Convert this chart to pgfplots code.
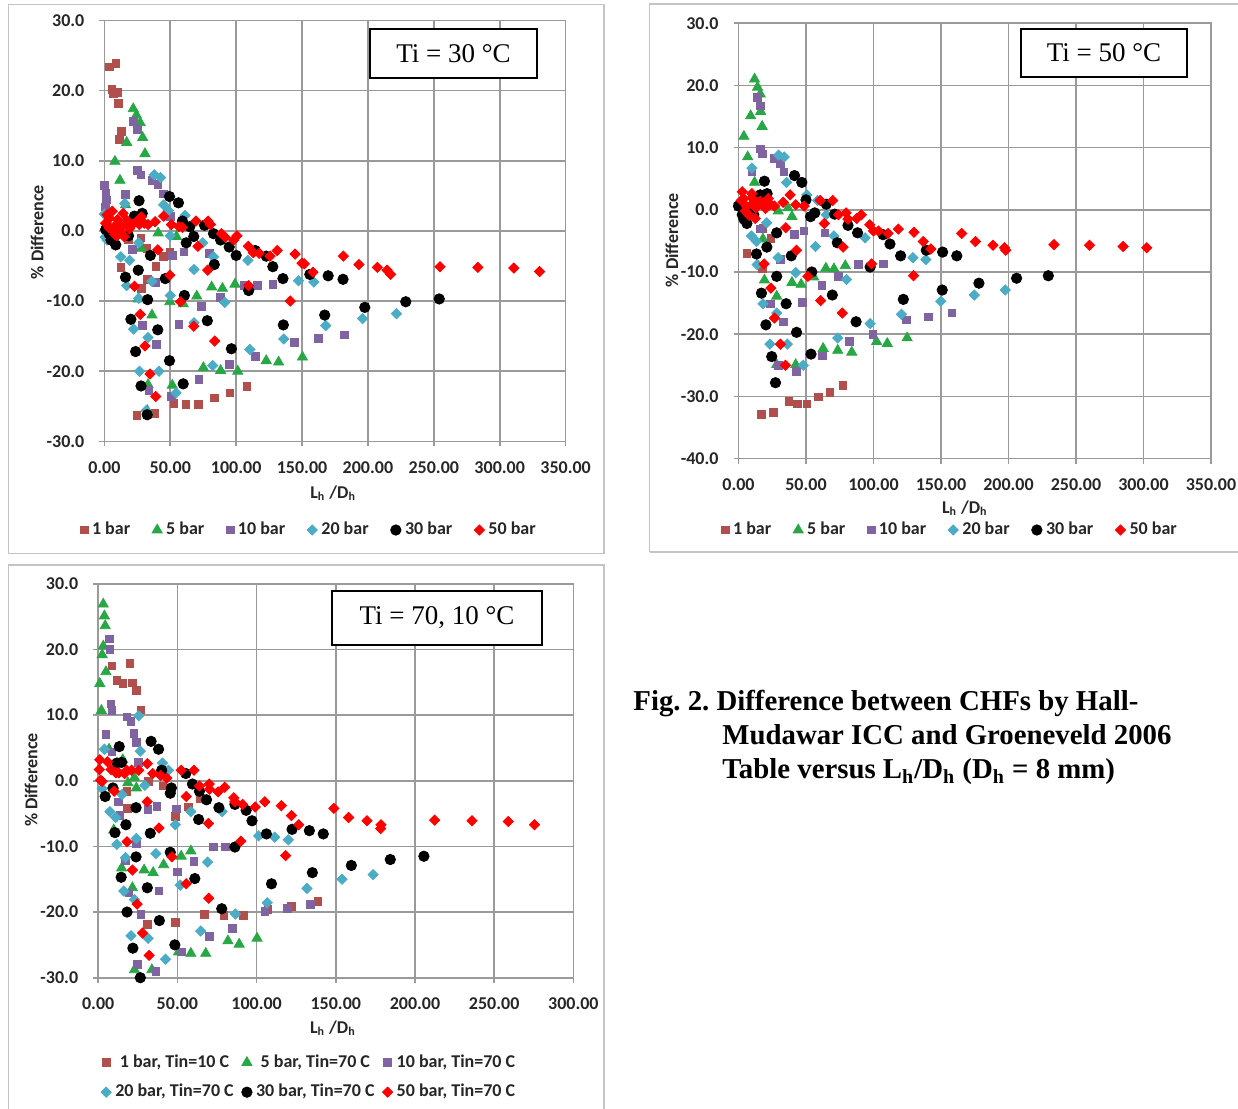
\documentclass[border=0pt]{standalone}
\usepackage{fontspec}
\setmainfont{Carlito}
\newfontfamily\tnr{Liberation Serif}
\usepackage{pgfplots}
\pgfplotsset{compat=1.18}
\frenchspacing
\definecolor{brownc}{HTML}{B14F4C}
\definecolor{greenc}{HTML}{28A745}
\definecolor{purplec}{HTML}{8064A2}
\definecolor{cyanc}{HTML}{4BACC6}
\definecolor{redc}{HTML}{FF0000}
\definecolor{gridgray}{HTML}{9A9A9A}
\definecolor{framegray}{HTML}{C4C4C4}
\pgfplotsset{
  panel/.style={
    scale only axis,
    axis line style={draw=gridgray, line width=0.8pt},
    grid=major, major grid style={draw=gridgray, line width=0.8pt},
    tick align=outside, tick pos=left, major tick length=2.5pt,
    every tick/.style={draw=gridgray, line width=0.8pt},
    ticklabel style={font=\fontsize{9}{10}\selectfont\bfseries, text=black!85},
    xticklabel style={/pgf/number format/fixed, /pgf/number format/fixed zerofill, /pgf/number format/precision=2, /pgf/number format/assume math mode=true, yshift=-4pt},
    yticklabel style={/pgf/number format/fixed, /pgf/number format/fixed zerofill, /pgf/number format/precision=1, /pgf/number format/assume math mode=true, xshift=-4pt},
    label style={font=\fontsize{9}{10}\selectfont\bfseries, text=black!85},
    xlabel={L\textsubscript{h} /D\textsubscript{h}},
    ylabel={\% Difference},
    legend style={draw=none, fill=none, font=\fontsize{9}{10}\selectfont\bfseries, text=black!85,
      /tikz/every even column/.append style={column sep=9pt}},
    legend image code/.code={\draw[mark repeat=2,mark phase=2,##1] plot coordinates {(0cm,0cm) (0.1cm,0cm) (0.2cm,0cm)};},
  },
  s1/.style={only marks, mark=square*, mark size=1.9pt, color=brownc},
  s5/.style={only marks, mark=triangle*, mark size=2.9pt, color=greenc},
  s10/.style={only marks, mark=square*, mark size=1.9pt, color=purplec},
  s20/.style={only marks, mark=square*, mark options={rotate=45}, mark size=1.8pt, color=cyanc},
  s30/.style={only marks, mark=*, mark size=2.6pt, color=black},
  s50/.style={only marks, mark=square*, mark options={rotate=45}, mark size=1.8pt, color=redc},
}
\begin{document}
\begin{tikzpicture}
\path[use as bounding box] (0,0) rectangle (619pt,554.5pt);
\fill[white] (0,0) rectangle (619pt,554.5pt);
% panel frames
\draw[framegray, line width=0.8pt] (4.3pt,277.7pt) rectangle (302pt,552.3pt);
\draw[framegray, line width=0.8pt] (324.8pt,278.5pt) -- (324.8pt,552.5pt) -- (619pt,552.5pt);
\draw[framegray, line width=0.8pt] (324.8pt,278.5pt) -- (619pt,278.5pt);
\draw[framegray, line width=0.8pt] (4.3pt,0pt) -- (4.3pt,272pt) -- (302pt,272pt) -- (302pt,0pt);

% ---------------- Panel 1: Ti = 30 C
\begin{axis}[panel, at={(52.2pt,333.8pt)}, anchor=south west, width=230.6pt, height=210.5pt,
  xmin=0, xmax=350, ymin=-30, ymax=30, xtick={0,50,...,350}, ytick={-30,-20,...,30},
  xlabel style={at={(axis description cs:0.496,-0.1226)}, anchor=center},
  ylabel style={at={(axis description cs:-0.146,0.497)}, anchor=center, rotate=0},
  legend columns=6, legend style={at={(axis description cs:0.446,-0.2105)}, anchor=center}]
\addplot[s1] coordinates {(3.6,23.4) (8.6,23.9) (5.6,20.2) (7,19.6) (10,19.7) (10.7,18.2) (12.7,14.2) (11.2,13.0) (12.4,-5.2) (27.8,-1.0) (32.2,-2.5) (32.8,-6.9) (39,-5.1) (44.7,-3.6) (49.7,-3.0) (24.6,-26.3) (37.9,-26.0) (52.7,-24.6) (62,-24.7) (71.3,-24.7) (83.7,-23.8) (95.3,-23.1) (108,-22.2) (18,-1.2) (28,-8.2)};
\addlegendentry{1 bar}
\addplot[s5] coordinates {(21.9,17.4) (24.3,16.5) (27.2,15.4) (29,13.3) (30.8,11.0) (16.9,12.6) (8,9.9) (11.8,7.2) (16,3.7) (40.8,-0.3) (54.7,-0.8) (27.8,-2.5) (25.7,-9.7) (36.1,-12.0) (49.7,-10.1) (59.8,-10.4) (70.1,-9.3) (81.4,-8.0) (89.6,-8.2) (99.1,-7.6) (75.1,-19.5) (88.2,-19.9) (101.2,-20.0) (122.8,-18.5) (132.2,-18.7) (150.3,-18.0) (51.5,-22.0) (33.1,-21.9) (32.5,-25.6)};
\addlegendentry{5 bar}
\addplot[s10] coordinates {(0,6.5) (1.2,5.4) (1.5,4.4) (0.8,3.4) (1.2,2.4) (21.9,15.6) (24.9,14.5) (24.9,8.6) (27.8,8.0) (16,5.2) (36.1,7.2) (40.5,6.6) (44.7,5.3) (50,2.1) (21.3,-2.6) (39,-7.3) (51.5,-3.5) (60.4,-3.0) (79.6,-3.2) (73.4,-10.8) (87.9,-9.5) (28.7,-13.5) (56.5,-13.3) (39.6,-16.2) (105.9,-7.8) (116,-7.8) (127.8,-7.6) (114.5,-17.9) (95,-19.0) (71.6,-21.2) (33.7,-22.7) (50.9,-23.6) (144.4,-15.9) (162.4,-15.3) (182.2,-14.8)};
\addlegendentry{10 bar}
\addplot[s20] coordinates {(0,2.4) (0.6,-0.9) (2,-1.3) (15.4,3.9) (12.4,-3.7) (19.2,-4.2) (16.9,-7.8) (22.2,-14.0) (26.6,-20.0) (33.1,-15.2) (31.7,-25.6) (41.4,-20.0) (54.4,-23.1) (37.9,8.0) (42.6,7.6) (45,3.7) (48.5,2.9) (50,-0.7) (50,-9.2) (26,-1.7) (36,-7.2) (61.2,2.2) (68,-5.5) (82.8,-3.7) (91.4,-10.2) (82.2,-19.2) (110.4,-16.9) (108.9,-4.2) (136.1,-15.4) (147.3,-7.1) (158.9,-7.3) (168,-13.5) (195.9,-12.5) (221.6,-11.8) (68,-13.1) (74.6,-1.7) (26,-9.6)};
\addlegendentry{20 bar}
\addplot[s30] coordinates {(2.1,0.6) (6.5,-0.7) (8.6,-2.0) (18.3,-0.7) (16,-6.6) (20.1,-12.6) (23.7,-17.2) (27.8,-22.1) (32.5,-26.2) (25.7,-5.6) (26.3,4.3) (22.8,2.1) (28.7,2.5) (34.9,-3.5) (32.8,-9.8) (40.5,-14.1) (46.2,-6.8) (49.4,-18.5) (49.4,4.9) (56.2,4.0) (59.2,1.4) (62.1,-1.7) (64.8,0.6) (67.8,-0.8) (76,0.8) (82.8,-0.4) (83.4,-4.8) (78.1,-12.8) (59.8,-21.8) (60.7,-9.2) (88.2,-1.3) (94.7,-2.3) (100,-3.5) (96.4,-16.8) (109.5,-8.5) (114.5,-2.8) (122.8,-3.6) (127.8,-5.1) (135.5,-6.8) (135.8,-13.4) (155.9,-6.2) (169.8,-6.4) (181.1,-6.9) (167.2,-12.0) (197.6,-10.9) (228.7,-10.1) (254.1,-9.7) (1,0.2) (3.5,-0.4) (5,-1.3) (11,-0.3)};
\addlegendentry{30 bar}
\addplot[s50] coordinates {(5.9,2.8) (1,1.1) (3.5,0.4) (8.9,0.9) (14.2,2.5) (9.5,-0.7) (12.4,-0.2) (16.9,0.9) (21.3,0.9) (24.9,1.4) (26.6,0.9) (30.2,1.1) (33.1,0.9) (38.5,1.3) (45,2.1) (50.9,0.9) (56.5,0.6) (59.2,0.5) (69.5,1.4) (78.7,1.4) (80.5,0.9) (88.8,-0.4) (91.7,-0.9) (100.6,-0.7) (98.2,-1.3) (109.2,-2.2) (113,-3.1) (117.5,-3.2) (125.7,-3.6) (131.1,-2.8) (144.7,-3.3) (150,-4.6) (151.8,-4.7) (158.3,-5.9) (141.1,-10.0) (181.4,-3.6) (193.2,-4.8) (207.1,-5.2) (214.5,-5.6) (217.2,-6.2) (254.7,-5.1) (283.4,-5.2) (310.7,-5.3) (330.2,-5.8) (22.8,-7.9) (27.2,-11.9) (30.8,-16.4) (34.6,-20.4) (39,-23.6) (40.5,-2.7) (49.7,-6.3) (57.7,-10.1) (67.8,-13.6) (71,-2.2) (78.4,-5.6) (83.7,-15.7) (109.5,-7.8) (2,2.3) (4,1.8) (6,0.2) (8,-0.5) (10,1.6) (13,0.6) (15,-0.8) (17,1.5) (19,0.3) (28,2.0)};
\addlegendentry{50 bar}
\end{axis}
\node[draw=black, line width=0.8pt, fill=white, minimum width=83.5pt, minimum height=24.5pt, inner sep=0pt, font=\tnr\fontsize{13.5}{15}\selectfont] at (226.75pt,527.75pt) {Ti = 30 °C};

% ---------------- Panel 2: Ti = 50 C
\begin{axis}[panel, at={(369.25pt,325.2pt)}, anchor=south west, width=236.25pt, height=217.7pt,
  xmin=0, xmax=350, ymin=-40, ymax=30, xtick={0,50,...,350}, ytick={-40,-30,...,30},
  xlabel style={at={(axis description cs:0.479,-0.1134)}, anchor=center},
  ylabel style={at={(axis description cs:-0.141,0.502)}, anchor=center},
  legend columns=6, legend style={at={(axis description cs:0.45,-0.164)}, anchor=center}]
\addplot[s1] coordinates {(6.2,-7.0) (24,-4.6) (17.5,-9.4) (17,-32.9) (26,-32.6) (37.3,-30.8) (43.5,-31.2) (50.6,-31.2) (59.1,-30.1) (67.6,-29.4) (77.2,-28.2) (18,-3.0)};
\addlegendentry{1 bar}
\addplot[s5] coordinates {(11.9,21.0) (14.1,19.7) (16.1,18.6) (9,15.1) (16.4,15.8) (17.5,13.4) (4,11.8) (6.8,8.5) (11.9,4.4) (18.1,-4.7) (19.2,-11.3) (29.4,-0.2) (36.7,0.3) (39.6,-1.1) (28.3,-13.9) (39.6,-11.7) (46.4,-12.0) (55.7,-10.8) (64.7,-9.4) (70.7,-9.5) (79.1,-9.0) (62.7,-22.3) (73.5,-22.6) (83.9,-22.9) (102.3,-21.2) (110.2,-21.5) (124.9,-20.6) (42.4,-24.9) (28.3,-24.9)};
\addlegendentry{5 bar}
\addplot[s10] coordinates {(14.1,18.1) (16.1,16.7) (16.4,9.8) (17.5,9.0) (9.9,6.1) (26.6,8.3) (31.1,7.5) (33.6,6.1) (16.1,-3.1) (41.5,-4.0) (48.3,-3.4) (31.1,-8.0) (23.7,-15.1) (33.4,-18.0) (47.2,-14.9) (63.9,-3.7) (61.9,-12.2) (74.1,-10.7) (88.8,-8.8) (107.4,-8.7) (29.4,-25.0) (43,-26.0) (62.2,-23.5) (82,-21.2) (99.5,-20.0) (124.4,-17.7) (140.8,-17.2) (158,-16.6)};
\addlegendentry{10 bar}
\addplot[s20] coordinates {(9.9,6.7) (9.6,-4.2) (13.3,-5.1) (13.8,-8.8) (18.1,-15.1) (20.9,-2.1) (23.2,-21.6) (36.2,-21.6) (28.3,-16.6) (29.4,-7.7) (29.7,8.8) (33.9,8.5) (35.6,4.4) (42.4,-10.1) (48,-25.0) (50.6,2.4) (57.1,-5.9) (58.5,1.5) (65,-0.8) (70.7,-4.2) (73.5,-20.6) (80,-11.2) (93.8,-4.5) (97.5,-18.3) (120.7,-16.8) (129.2,-7.7) (138.8,-8.0) (149.8,-14.7) (174.7,-13.7) (197.6,-12.9) (0,1.0)};
\addlegendentry{20 bar}
\addplot[s30] coordinates {(0,0.6) (2.8,-0.8) (6.2,-2.2) (11.3,-0.8) (13.3,-7.1) (17,-13.4) (20.3,-18.5) (24.6,-23.6) (27.4,-27.8) (16.1,2.4) (19.2,4.6) (21.2,2.6) (21,-6.0) (28.3,-3.7) (28.3,-10.7) (35.3,-15.1) (39.1,-7.4) (41.5,5.5) (46.9,4.4) (43,-19.7) (50,1.6) (53.4,-1.1) (56.5,-0.5) (53.7,-23.2) (54.3,-10.0) (65,0.9) (71.2,-0.7) (73.2,-5.3) (69.5,-13.7) (81.1,-2.5) (87.1,-18.0) (88.2,-3.7) (97.5,-9.2) (107.1,-4.0) (112.2,-5.5) (120.1,-7.4) (122.1,-14.4) (139.1,-6.5) (151.2,-6.8) (161.7,-7.4) (150.9,-12.9) (178.1,-11.8) (206,-11.0) (229.5,-10.6) (4,-1.5) (8,0.3)};
\addlegendentry{30 bar}
\addplot[s50] coordinates {(2.8,2.9) (2,1.5) (5,-0.2) (9.9,2.6) (11.3,1.2) (14.7,1.0) (18.7,0.9) (21.2,1.2) (23.7,0.9) (26.6,0.6) (33.1,1.2) (38.2,2.4) (42.4,0.8) (48.6,0.6) (60.5,1.5) (69.8,1.5) (74.1,-0.8) (79.7,-0.5) (81.1,-1.5) (87.6,-1.4) (91,-0.8) (97.2,-2.4) (100,-3.4) (103.7,-3.4) (110.8,-3.8) (118.4,-3.1) (130,-3.6) (136.8,-5.1) (142.5,-6.3) (165.3,-3.8) (175.5,-5.1) (188.5,-5.7) (197,-6.1) (197.9,-6.5) (233.7,-5.6) (260,-5.7) (284.9,-5.9) (302.4,-6.1) (12.4,-1.4) (18.9,-8.7) (24,-12.6) (26.6,-17.4) (31.1,-21.6) (34.8,-25.0) (35,-2.9) (43,-6.5) (51.4,-10.7) (60.8,-14.6) (76.9,-16.6) (98.6,-8.7) (129.7,-10.6) (63.6,-2.2) (77.5,-6.0) (4,1.8) (6,0.5) (8,-0.9) (10,1.9) (13,0.3) (16,1.4) (20,0.2) (22,1.8)};
\addlegendentry{50 bar}
\end{axis}
\node[draw=black, line width=0.8pt, fill=white, minimum width=83pt, minimum height=24pt, inner sep=0pt, font=\tnr\fontsize{13.5}{15}\selectfont] at (552pt,528pt) {Ti = 50 °C};

% ---------------- Panel 3: Ti = 70, 10 C
\begin{axis}[panel, at={(49.1pt,65.65pt)}, anchor=south west, width=237.6pt, height=196.95pt,
  xmin=0, xmax=300, ymin=-30, ymax=30, xtick={0,50,...,300}, ytick={-30,-20,...,30},
  xlabel style={at={(axis description cs:0.494,-0.1277)}, anchor=center},
  ylabel style={at={(axis description cs:-0.141,0.502)}, anchor=center},
  legend columns=3, legend style={at={(axis description cs:0.446,-0.253)}, anchor=center, /tikz/every even column/.append style={column sep=2pt}, /tikz/row sep=3pt}]
\addplot[s1] coordinates {(8.6,17.5) (11.8,15.3) (15.7,14.8) (19.9,17.9) (21.6,14.9) (24.1,13.8) (27,10.8) (31.7,-0.1) (40.8,-0.8) (18.4,-4.2) (48.7,-5.4) (57,-4.0) (64.7,-2.7) (31,-21.9) (48.7,-21.6) (67.1,-20.4) (79.4,-20.5) (91.5,-20.5) (107.2,-19.6) (122,-19.1) (138.7,-18.4) (18,-1.6)};
\addlegendentry{1 bar, Tin=10 C}
\addplot[s5] coordinates {(3.2,26.9) (3.9,25.1) (4.4,23.6) (3.2,20.5) (2.5,19.2) (4.9,16.6) (1,14.8) (2,10.7) (6.9,4.8) (22.9,0.5) (18.7,-0.3) (24.1,-1.1) (9.8,-7.5) (14.8,-13.3) (21.6,-16.3) (29,-13.6) (34.7,-14.0) (41.3,-12.8) (52.4,-11.5) (58.5,-10.7) (22.9,-28.8) (33.9,-28.8) (50.7,-26.1) (58.5,-26.3) (67.9,-26.3) (81.9,-24.4) (89,-24.9) (100.3,-24.0) (15.5,3.2)};
\addlegendentry{5 bar, Tin=70 C}
\addplot[s10] coordinates {(6.9,21.6) (7.4,20.0) (7.9,11.7) (8.6,10.7) (4.9,7.1) (8.6,4.4) (18,9.7) (20.7,9.0) (22.6,7.2) (24.1,5.8) (25.3,2.8) (12.8,-3.2) (13.8,-5.3) (31.5,-4.4) (37.1,-3.9) (24.1,-9.5) (17.2,-12.1) (19.4,-17.1) (38.4,-16.8) (49.2,-4.3) (49.9,-13.9) (60.5,-12.3) (72.8,-10.1) (80.2,-10.1) (27,-20.4) (24.8,-28.0) (36.4,-29.0) (52.4,-26.1) (70.1,-23.7) (84.8,-22.5) (105.2,-19.9) (119.5,-19.4) (134,-18.8)};
\addlegendentry{10 bar, Tin=70 C}
\addplot[s20] coordinates {(2.5,-1.2) (3.9,4.8) (7.4,-4.7) (11.1,-5.6) (11.8,-9.7) (17.2,-11.7) (16.2,-16.8) (20.7,-23.6) (22.9,-18.1) (24.1,-8.8) (25.6,9.9) (26.6,4.5) (29.5,-0.7) (31.5,-24.0) (36.4,-11.1) (40.6,2.7) (44.3,1.6) (42.5,-27.2) (48.7,-6.7) (51.8,-15.9) (58.5,-4.7) (69.1,-12.4) (64.7,-22.9) (78.2,-4.7) (86.6,-20.3) (101.3,-8.4) (111.4,-8.6) (106.7,-18.6) (120,-9.0) (131.8,-16.4) (153.9,-15.0) (173.6,-14.3) (9.8,-1.2) (15,-2.1)};
\addlegendentry{20 bar, Tin=70 C}
\addplot[s30] coordinates {(4.4,-2.4) (9.3,-1.1) (10.6,-7.9) (13.3,5.2) (11.8,2.7) (14.8,2.8) (14.5,-14.7) (17.5,-6.7) (18.2,-20.0) (21.9,-25.5) (23.9,-4.1) (23.9,-11.6) (26.6,-30.0) (31,-16.3) (32.9,-8.0) (33.4,6.0) (38.1,4.8) (38.6,-21.3) (40.1,1.6) (45.5,-1.9) (46.2,-1.1) (45.5,-10.9) (48.4,-25.0) (55.3,1.1) (59.5,-0.5) (61,-14.9) (63.9,-1.6) (63.4,-5.9) (68.4,-2.9) (76.2,-4.1) (78,-19.5) (86.3,-3.6) (86.3,-10.1) (93.4,-4.5) (97.1,-6.1) (106.2,-8.1) (109.4,-15.7) (122.4,-7.4) (133.3,-7.6) (142.1,-8.1) (135.2,-14.0) (159.8,-12.9) (184.4,-12.0) (205.6,-11.5)};
\addlegendentry{30 bar, Tin=70 C}
\addplot[s50] coordinates {(1,3.2) (0.7,1.7) (1.5,0.1) (2.5,-0.1) (5.9,2.9) (8.1,1.7) (11.1,1.2) (13,1.2) (16.7,1.1) (18,1.6) (21.1,1.6) (25.6,1.6) (31,2.6) (34.4,1.1) (39.3,0.8) (43.3,0.4) (52.4,1.6) (60.5,1.6) (63.9,-0.8) (70.1,-0.5) (70.3,-1.3) (75.7,-1.7) (79.9,-1.0) (85.6,-2.6) (86.3,-3.2) (91.2,-3.6) (99.1,-4.0) (105.2,-3.2) (115.6,-3.8) (122,-5.3) (126.6,-6.7) (148.8,-4.2) (158.1,-5.6) (169.7,-6.1) (178.5,-6.7) (178.3,-7.3) (212.4,-6.0) (236,-6.1) (258.9,-6.2) (275.4,-6.7) (10.1,-1.6) (18.2,-9.3) (21.6,-13.6) (24.6,-18.8) (28,-23.2) (32.2,-26.6) (31,-3.2) (38.4,-7.2) (46.5,-11.6) (55.6,-15.7) (69.8,-17.9) (69.6,-6.5) (55.6,-2.4) (90,-9.2) (118.3,-11.4)};
\addlegendentry{50 bar, Tin=70 C}
\end{axis}
\node[draw=black, line width=0.8pt, fill=white, minimum width=105pt, minimum height=27pt, inner sep=0pt, font=\tnr\fontsize{13.5}{15}\selectfont] at (218.5pt,245.5pt) {Ti = 70, 10 °C};

% caption
\begin{scope}[every node/.style={inner sep=0pt, font=\tnr\bfseries\fontsize{14.4}{17}\selectfont}]
\node[anchor=base west] at (316.5pt,199pt) {Fig. 2. Difference between CHFs by Hall-};
\node[anchor=base west] at (361pt,182pt) {Mudawar ICC and Groeneveld 2006};
\node[anchor=base west] at (361pt,165pt) {Table versus L\textsubscript{h}/D\textsubscript{h} (D\textsubscript{h} = 8 mm)};
\end{scope}
\end{tikzpicture}
\end{document}
